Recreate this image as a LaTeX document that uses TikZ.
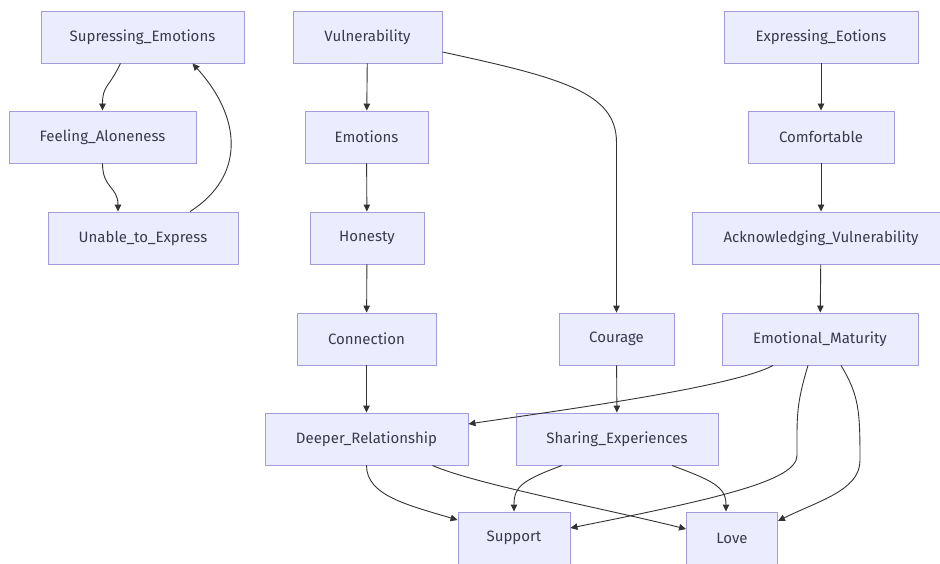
\documentclass[tikz,border=0pt]{standalone}
\usepackage{fontspec}
\setmainfont{Fira Sans}
\usepackage{tikz}
\usetikzlibrary{arrows.meta}
\usepackage{xcolor}
\definecolor{boxfill}{HTML}{ECECFF}
\definecolor{boxline}{HTML}{A49CDA}
\definecolor{linkgray}{HTML}{333333}
\definecolor{textgray}{HTML}{3A3A4A}

\tikzset{
  box/.style={draw=boxline, fill=boxfill, line width=0.9pt, minimum height=52pt,
    inner sep=0pt, text=textgray, font=\fontsize{15}{18}\selectfont},
  link/.style={draw=linkgray, line width=0.9pt, -{Triangle[length=7pt,width=6.5pt]}}
}

\begin{document}
\begin{tikzpicture}[x=1pt,y=-1pt]
    \fill[white] (0,0) rectangle (940,564);
    \useasboundingbox (0,0) rectangle (940,564);

    % Loop on the left
    \node[box, minimum width=203pt] (supress) at (142.5,37) {Supressing\_Emotions};
    \node[box, minimum width=187pt] (alone) at (102.5,137) {Feeling\_Aloneness};
    \node[box, minimum width=190pt] (unable) at (143,238) {Unable\_to\_Express};
    \draw[link] ([xshift=-22pt]supress.south) .. controls +(-12,25) and +(0,-25) .. (alone.north);
    \draw[link] (alone.south) .. controls +(0,25) and +(0,-25) .. ([xshift=-25pt]unable.north);
    \draw[link] ([xshift=47pt]unable.north) .. controls +(55,-35) and +(50,55) .. ([xshift=50pt]supress.south);

    % Middle column
    \node[box, minimum width=149pt] (vuln) at (367.5,37) {Vulnerability};
    \node[box, minimum width=123pt] (emot) at (366.5,137) {Emotions};
    \node[box, minimum width=114pt] (honest) at (367,238) {Honesty};
    \node[box, minimum width=139pt] (conn) at (366.5,339) {Connection};
    \node[box, minimum width=115pt] (courage) at (616.5,339) {Courage};
    \draw[link] (vuln) -- (emot);
    \draw[link] (emot) -- (honest);
    \draw[link] (honest) -- (conn);
    \draw[link] ([yshift=-15pt]vuln.east) .. controls +(120,26) and +(0,-50) .. ([yshift=170pt]courage.north) -- (courage.north);

    % Right column
    \node[box, minimum width=194pt] (express) at (821,37) {Expressing\_Eotions};
    \node[box, minimum width=146pt] (comfort) at (821,137) {Comfortable};
    \node[box, minimum width=258pt] (ackvuln) at (821,238) {Acknowledging\_Vulnerability};
    \node[box, minimum width=196pt] (maturity) at (820,339) {Emotional\_Maturity};
    \draw[link] (express) -- (comfort);
    \draw[link] (comfort) -- (ackvuln);
    \draw[link] (ackvuln) -- (maturity);

    % Lower rows
    \node[box, minimum width=203pt] (deeper) at (366.5,439) {Deeper\_Relationship};
    \node[box, minimum width=202pt] (sharing) at (617,439) {Sharing\_Experiences};
    \node[box, minimum width=112pt] (support) at (514,538) {Support};
    \node[box, minimum width=91pt] (love) at (732,538) {Love};
    \draw[link] (conn) -- (deeper);
    \draw[link] (courage) -- (sharing);
    \draw[link] ([xshift=-47pt]maturity.south) .. controls +(-40,22) and +(80,-12) .. ([yshift=15pt]deeper.east);
    \draw[link] ([xshift=-12pt]maturity.south) .. controls +(-12,40) and +(0,-40) .. ++(-11,90)
        .. controls +(0,25) and +(150,-30) .. ([yshift=10pt]support.east);
    \draw[link] ([xshift=21pt]maturity.south) .. controls +(18,30) and +(0,-50) .. ++(19,95)
        .. controls +(0,30) and +(40,-20) .. ([yshift=17pt]love.east);

    % Into the bottom boxes
    \draw[link] (deeper.south) .. controls +(0,30) and +(-50,-15) .. ([yshift=18pt]support.west);
    \draw[link] ([xshift=66pt]deeper.south) .. controls +(40,18) and +(-80,-20) .. ([yshift=9pt]love.west);
    \draw[link] ([xshift=-55pt]sharing.south) .. controls +(-40,15) and +(0,-25) .. (support.north);
    \draw[link] ([xshift=55pt]sharing.south) .. controls +(40,15) and +(0,-25) .. ([xshift=-6pt]love.north);
\end{tikzpicture}
\end{document}
